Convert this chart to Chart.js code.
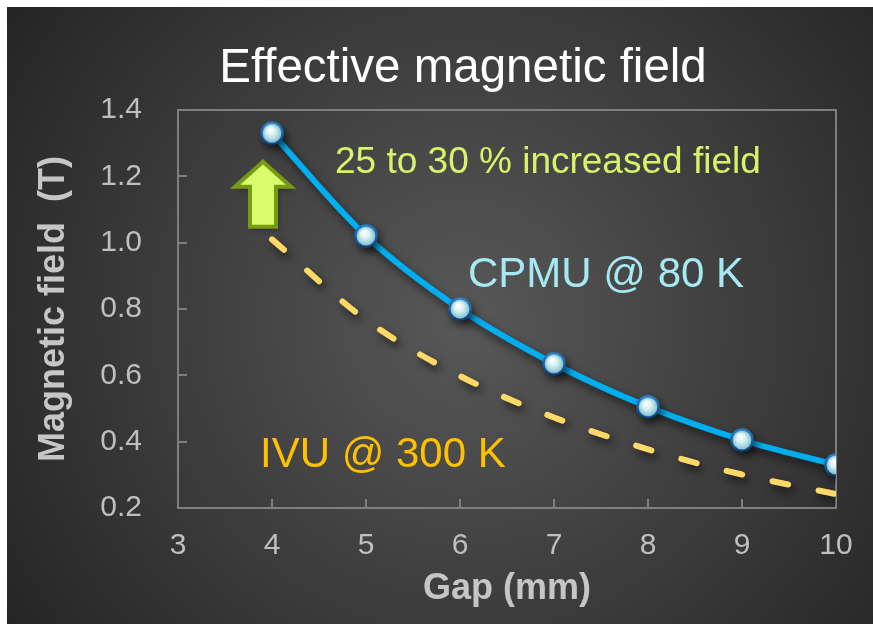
<!DOCTYPE html>
<html>
<head>
<meta charset="utf-8">
<script src="https://cdn.jsdelivr.net/npm/chart.js@4.4.1/dist/chart.umd.min.js"></script>
<style>
  html, body { margin: 0; padding: 0; background: #fff; overflow: hidden; }
  canvas { display: block; }
</style>
</head>
<body>
<canvas id="c" width="873" height="624" style="width:873px;height:624px"></canvas>
<script>
// Gap in mm
const gaps = [4, 5, 6, 7, 8, 9, 10];
// Cryogenic permanent-magnet undulator at 80 K (T)
const cpmuField = [1.33, 1.02, 0.80, 0.635, 0.505, 0.405, 0.33];
// Room-temperature in-vacuum undulator at 300 K (T)
const ivuField = [1.01, 0.767, 0.598, 0.473, 0.377, 0.301, 0.242];

const xTicks = [3, 4, 5, 6, 7, 8, 9, 10];
const yTicks = [0.2, 0.4, 0.6, 0.8, 1.0, 1.2, 1.4];

const chartTitle = 'Effective magnetic field';
const xTitle = 'Gap (mm)';
const yTitle = 'Magnetic field  (T)';

// Text notes placed in data space: [text, gap, field, colour, size]
const notes = [
  ['25 to 30 % increased field', 4.67, 1.21, '#d6f36b', 37],
  ['CPMU @ 80 K', 6.085, 0.866, '#a7e9f3', 42],
  ['IVU @ 300 K', 3.872, 0.324, '#ffc000', 42]
];

const FONT = '"Liberation Sans", Arial, Helvetica, sans-serif';

// Glossy round marker used for the CPMU points
function makeMarker(r) {
  const s = Math.ceil(r * 2 + 2);
  const c = document.createElement('canvas');
  c.width = c.height = s;
  const g = c.getContext('2d');
  const cx = s / 2;
  const ring = g.createLinearGradient(0, 0, 0, s);
  ring.addColorStop(0, '#2d86d2');
  ring.addColorStop(1, '#0a3b76');
  g.beginPath();
  g.arc(cx, cx, r, 0, Math.PI * 2);
  g.fillStyle = ring;
  g.fill();
  const inner = g.createRadialGradient(cx - 2, cx - 4, 0.5, cx, cx, r - 2.4);
  inner.addColorStop(0, '#ffffff');
  inner.addColorStop(0.45, '#d9f1f4');
  inner.addColorStop(1, '#83c3cf');
  g.beginPath();
  g.arc(cx, cx, r - 2.4, 0, Math.PI * 2);
  g.fillStyle = inner;
  g.fill();
  return c;
}
const marker = makeMarker(11.8);

// Slide-style background: white margin, dark radial glow
const backdrop = {
  id: 'backdrop',
  beforeDraw(chart) {
    const { ctx, width, height } = chart;
    ctx.save();
    ctx.fillStyle = '#ffffff';
    ctx.fillRect(0, 0, width, height);
    const grad = ctx.createRadialGradient(465, 320, 0, 465, 320, 560);
    grad.addColorStop(0, '#585858');
    grad.addColorStop(1, '#242424');
    ctx.fillStyle = grad;
    ctx.fillRect(7, 7, width - 7, height - 7);
    ctx.restore();
  }
};

// Plot frame with inward tick marks
const frame = {
  id: 'frame',
  beforeDatasetsDraw(chart) {
    const { ctx, chartArea: a, scales } = chart;
    ctx.save();
    ctx.strokeStyle = '#7f7f7f';
    ctx.lineWidth = 2;
    ctx.strokeRect(a.left, a.top, a.right - a.left, a.bottom - a.top);
    ctx.beginPath();
    yTicks.forEach(v => {
      const y = Math.round(scales.y.getPixelForValue(v));
      ctx.moveTo(a.left, y);
      ctx.lineTo(a.left + 9, y);
    });
    xTicks.forEach(v => {
      const x = Math.round(scales.x.getPixelForValue(v));
      ctx.moveTo(x, a.bottom);
      ctx.lineTo(x, a.bottom - 9);
    });
    ctx.stroke();
    ctx.restore();
  }
};

// Soft drop shadow under each series
const shadow = {
  id: 'shadow',
  beforeDatasetDraw(chart) {
    const ctx = chart.ctx;
    ctx.save();
    ctx.shadowColor = 'rgba(0,0,0,0.6)';
    ctx.shadowBlur = 8;
    ctx.shadowOffsetX = 3;
    ctx.shadowOffsetY = 5;
  },
  afterDatasetDraw(chart) {
    chart.ctx.restore();
  }
};

// Title, notes and the "increase" arrow
const overlay = {
  id: 'overlay',
  afterDatasetsDraw(chart) {
    const { ctx, scales } = chart;
    ctx.save();
    ctx.textAlign = 'center';
    ctx.textBaseline = 'alphabetic';
    ctx.fillStyle = '#ffffff';
    ctx.font = '47.5px ' + FONT;
    ctx.fillText(chartTitle, 463, 82);

    ctx.textAlign = 'left';
    notes.forEach(([t, gx, gy, col, size]) => {
      ctx.font = size + 'px ' + FONT;
      ctx.fillStyle = col;
      ctx.fillText(t, scales.x.getPixelForValue(gx), scales.y.getPixelForValue(gy));
    });

    // upward arrow, tip anchored in data space
    const tx = scales.x.getPixelForValue(3.904);
    const ty = scales.y.getPixelForValue(1.244);
    const pts = [[0, 0], [28, 25], [13, 25], [13, 65], [-13, 65], [-13, 25], [-28, 25]];
    ctx.beginPath();
    pts.forEach(([dx, dy], i) => (i ? ctx.lineTo(tx + dx, ty + dy) : ctx.moveTo(tx + dx, ty + dy)));
    ctx.closePath();
    ctx.shadowColor = 'rgba(0,0,0,0.35)';
    ctx.shadowBlur = 5;
    ctx.shadowOffsetX = 2;
    ctx.shadowOffsetY = 3;
    ctx.fillStyle = '#d8fc6a';
    ctx.fill();
    ctx.shadowColor = 'transparent';
    ctx.lineJoin = 'miter';
    ctx.lineWidth = 4;
    ctx.strokeStyle = '#779a12';
    ctx.stroke();
    ctx.restore();
  }
};

new Chart(document.getElementById('c'), {
  type: 'line',
  data: {
    datasets: [
      {
        label: 'CPMU @ 80 K',
        data: gaps.map((g, i) => ({ x: g, y: cpmuField[i] })),
        borderColor: '#00aeef',
        borderWidth: 6,
        cubicInterpolationMode: 'monotone',
        pointStyle: marker,
        pointRadius: 11,
        pointHoverRadius: 11
      },
      {
        label: 'IVU @ 300 K',
        data: gaps.map((g, i) => ({ x: g, y: ivuField[i] })),
        borderColor: '#ffd966',
        borderWidth: 6,
        borderDash: [16, 31],
        borderCapStyle: 'round',
        cubicInterpolationMode: 'monotone',
        pointRadius: 0
      }
    ]
  },
  options: {
    responsive: false,
    animation: false,
    devicePixelRatio: 1,
    layout: { padding: { top: 110, right: 37, bottom: 0, left: 0 } },
    plugins: {
      legend: { display: false },
      tooltip: { enabled: false },
      title: { display: false }
    },
    scales: {
      x: {
        type: 'linear',
        min: 3,
        max: 10,
        afterBuildTicks: s => { s.ticks = xTicks.map(v => ({ value: v })); },
        afterFit: s => { s.height = 116; },
        grid: { display: false, drawTicks: false },
        border: { display: false },
        ticks: {
          color: '#bfbfbf',
          font: { family: FONT, size: 30 },
          padding: 20,
          maxRotation: 0,
          autoSkip: false,
          callback: v => String(v)
        },
        title: {
          display: true,
          text: xTitle,
          color: '#c6c6c6',
          font: { family: FONT, size: 36, weight: 'bold' },
          padding: { top: 0, bottom: 13 }
        }
      },
      y: {
        type: 'linear',
        min: 0.2,
        max: 1.4,
        afterBuildTicks: s => { s.ticks = yTicks.map(v => ({ value: v })); },
        afterFit: s => { s.width = 178; },
        grid: { display: false, drawTicks: false },
        border: { display: false },
        ticks: {
          color: '#bfbfbf',
          font: { family: FONT, size: 30 },
          padding: 36,
          autoSkip: false,
          callback: v => Number(v).toFixed(1)
        },
        title: {
          display: true,
          text: yTitle,
          color: '#c6c6c6',
          font: { family: FONT, size: 36, weight: 'bold' },
          padding: { top: 32, bottom: 0 }
        }
      }
    }
  },
  plugins: [backdrop, frame, shadow, overlay]
});
</script>
</body>
</html>
